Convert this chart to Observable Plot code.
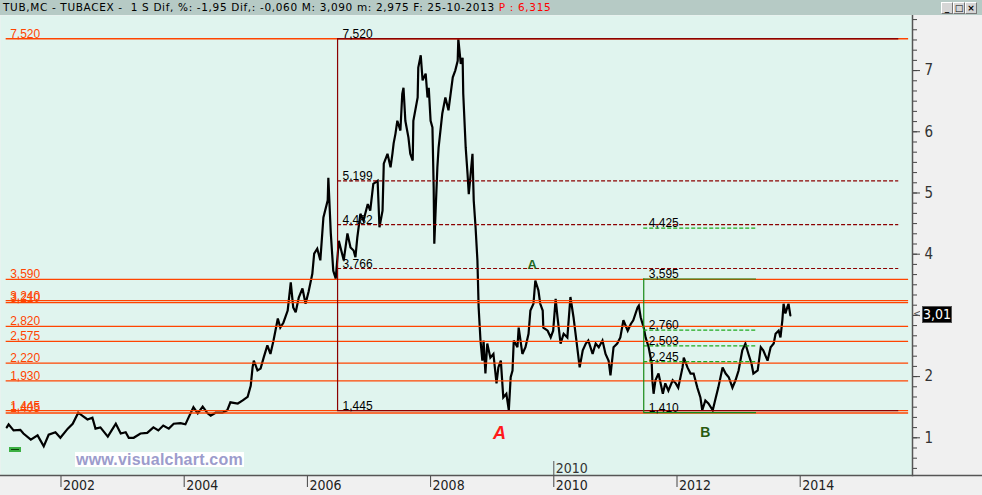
<!DOCTYPE html>
<html><head><meta charset="utf-8">
<script src="https://cdn.jsdelivr.net/npm/d3@7"></script>
<script src="https://cdn.jsdelivr.net/npm/@observablehq/plot@0.6"></script>
<style>
html,body{margin:0;padding:0;background:#f0f0f0;}
#wrap{position:relative;width:982px;height:495px;overflow:hidden;background:#f0f0f0;}
#hdr{position:absolute;left:0;top:0;width:982px;height:15px;background:#b6cac5;font:10.5px "DejaVu Sans",sans-serif;line-height:15px;white-space:pre;color:#000;}
#hdr .t{position:absolute;left:3px;top:0;letter-spacing:0.65px;}
#hdr .btn{position:absolute;top:2px;width:10px;height:10px;background:#d6d6d6;border:1px solid #fff;border-right-color:#777;border-bottom-color:#777;font:bold 9px "DejaVu Sans",sans-serif;line-height:10px;text-align:center;color:#000;}
#chart{position:absolute;left:0;top:15px;}
#wm{position:absolute;left:75px;top:452px;height:15px;background:#fff;padding:0 1px;font:bold 16px "Liberation Sans",Arial,sans-serif;line-height:15px;color:#9c9ccc;letter-spacing:0.2px;}
#gr{position:absolute;left:9px;top:447px;width:12px;height:5px;background:#3cb043;}
#gr div{position:absolute;left:2px;top:2px;width:8px;height:1px;background:#0a400a;}
#last{position:absolute;left:922px;width:28px;height:15px;background:#000;border:1px solid #555;color:#fff;font:14px "Liberation Sans Narrow","DejaVu Sans Condensed",sans-serif;line-height:15px;text-align:center;}
#arr{position:absolute;left:913px;width:7px;height:11px;overflow:hidden;font:10px "DejaVu Sans",sans-serif;color:#555;line-height:11px;}
</style></head>
<body><div id="wrap">
<div id="chart"></div>
<div id="hdr"><span class="t">TUB,MC - TUBACEX -  1 S Dif, %: -1,95 Dif,: -0,060 M: 3,090 m: 2,975 F: 25-10-2013 <span style="color:#f00">P : 6,315</span></span>
<div class="btn" style="left:941px">_</div><div class="btn" style="left:953px">□</div><div class="btn" style="left:965px">×</div></div>
<div id="gr"><div></div></div>
<div id="wm">www.visualchart.com</div>
</div>
<script>
// ---- data ----
const priceYears = [
2001.12,2001.15,2001.23,2001.34,2001.39,2001.51,2001.62,2001.72,2001.80,2001.91,2001.99,
2002.11,2002.19,2002.28,2002.35,2002.43,2002.51,2002.56,2002.64,2002.76,2002.84,2002.89,2002.97,
2003.05,2003.10,2003.18,2003.29,2003.40,2003.50,2003.58,2003.66,2003.75,2003.83,2003.94,
2004.02,2004.07,2004.15,2004.22,2004.30,2004.38,2004.43,2004.51,2004.62,2004.70,2004.75,2004.87,2004.95,
2005.03,2005.08,2005.11,2005.13,2005.19,2005.24,2005.29,2005.35,2005.40,2005.45,2005.52,2005.56,2005.61,2005.68,2005.73,2005.77,2005.81,2005.86,2005.92,2005.97,
2006.02,2006.08,2006.11,2006.16,2006.21,2006.26,2006.33,2006.34,2006.38,2006.42,2006.46,2006.51,2006.59,2006.65,2006.70,2006.75,2006.78,2006.81,2006.86,2006.91,2006.98,
2007.02,2007.07,2007.14,2007.17,2007.22,2007.24,2007.30,2007.35,2007.38,2007.40,2007.43,2007.46,2007.51,2007.54,2007.56,2007.59,2007.64,2007.67,2007.71,2007.72,2007.79,2007.80,2007.84,2007.87,2007.92,2007.95,2007.97,
2008.00,2008.03,2008.05,2008.06,2008.11,2008.13,2008.19,2008.24,2008.29,2008.36,2008.40,2008.44,2008.45,2008.49,2008.52,2008.53,2008.57,2008.60,2008.62,2008.68,2008.70,2008.73,2008.76,2008.78,2008.81,2008.84,2008.86,2008.89,2008.92,2008.97,
2009.02,2009.07,2009.10,2009.14,2009.18,2009.23,2009.27,2009.30,2009.33,2009.35,2009.41,2009.43,2009.49,2009.54,2009.59,2009.62,2009.67,2009.70,2009.75,2009.78,2009.82,2009.83,2009.90,2009.95,2009.99,
2010.03,2010.06,2010.11,2010.16,2010.22,2010.27,2010.32,2010.38,2010.42,2010.47,2010.52,2010.56,2010.63,2010.68,2010.73,2010.79,2010.84,2010.89,2010.92,2010.97,
2011.03,2011.08,2011.13,2011.20,2011.25,2011.29,2011.36,2011.38,2011.41,2011.46,2011.49,2011.54,2011.59,2011.60,2011.62,2011.65,2011.70,2011.77,2011.81,2011.86,2011.93,2011.98,
2012.02,2012.09,2012.11,2012.17,2012.22,2012.27,2012.33,2012.38,2012.41,2012.46,2012.51,2012.58,2012.63,2012.67,2012.74,2012.79,2012.84,2012.90,2012.95,
2013.00,2013.06,2013.11,2013.16,2013.21,2013.24,2013.31,2013.36,2013.40,2013.47,2013.52,2013.57,2013.60,2013.65,2013.68,2013.71,2013.73,2013.76,2013.79,2013.81,2013.84
];
const priceValues = [
1.17,1.22,1.12,1.13,1.07,0.97,1.04,0.86,1.05,1.09,1.00,
1.15,1.23,1.41,1.36,1.30,1.33,1.15,1.17,1.02,1.15,1.23,1.07,
1.09,1.00,1.00,1.07,1.08,1.17,1.12,1.20,1.15,1.23,1.24,
1.22,1.33,1.50,1.40,1.51,1.40,1.36,1.41,1.41,1.45,1.58,1.56,1.61,
1.67,1.85,2.15,2.26,2.10,2.13,2.31,2.51,2.37,2.59,2.95,2.80,2.88,3.08,3.54,3.13,3.05,3.29,3.44,3.19,
3.39,3.68,4.01,4.09,3.90,4.60,4.88,5.25,4.34,3.73,3.60,4.22,3.90,4.34,4.11,4.06,3.95,4.27,4.66,4.55,4.82,
4.71,5.15,5.20,4.44,4.71,5.48,5.64,5.42,5.64,5.81,5.97,6.18,6.02,6.62,6.72,6.18,5.91,5.64,5.53,6.18,6.56,7.05,7.25,6.84,6.95,6.56,6.72,
6.18,6.07,5.09,4.17,5.42,5.74,6.30,6.56,6.35,6.89,7.00,7.16,7.52,7.11,7.21,6.62,5.74,5.31,4.98,5.64,4.88,4.44,3.90,3.13,2.59,2.26,2.59,2.05,2.54,2.31,
2.37,1.89,2.15,2.26,1.66,1.72,1.45,1.99,2.10,2.59,2.48,2.80,2.37,2.48,2.70,3.08,3.19,3.57,3.41,3.19,3.08,2.80,2.75,2.64,2.75,
3.27,2.97,2.54,2.70,2.64,3.30,2.97,2.48,2.15,2.43,2.54,2.59,2.37,2.54,2.48,2.59,2.37,2.26,2.02,2.48,
2.54,2.64,2.92,2.75,2.86,2.92,3.13,3.16,2.97,2.80,2.64,2.48,2.21,1.94,1.72,1.94,2.05,1.72,1.89,1.77,1.94,1.89,
1.82,2.15,2.31,2.15,2.05,2.05,1.82,1.66,1.45,1.61,1.56,1.45,1.66,1.82,2.15,2.05,1.99,1.82,1.94,
2.10,2.43,2.54,2.37,2.21,2.05,2.10,2.48,2.43,2.26,2.48,2.54,2.70,2.75,2.64,2.92,3.19,3.03,3.13,3.19,3.00
];
const levelValues = [7.52, 3.59, 3.24, 3.21, 2.82, 2.575, 2.22, 1.93, 1.445, 1.405];
const levelSpan = [2001.11, 2015.76];
const fib1Span = [2006.49, 2015.60];
const fib1Range = [1.445, 7.52];
const fib1Levels = [5.199, 4.482, 3.766];
const fib2Span = [2011.46, 2013.29];
const fib2Range = [1.410, 3.595];
const fib2Levels = [4.425, 2.760, 2.503, 2.245];
const waveText = ["A", "A", "B"];
const waveYears = [2009.65, 2009.12, 2012.46];
const waveValues = [3.83, 1.07, 1.09];
const yearTicks = [2002, 2004, 2006, 2008, 2010, 2012, 2014];
const innerYear = [2010];
const majorYTicks = [1, 2, 3, 4, 5, 6, 7];
const minorYTicks = d3.range(3, 48).map(i => i / 6);
const lastPrice = 3.01;
const xDomain = [2001.018, 2015.823];
const yDomain = [0.384, 7.900];

// ---- drawing ----
const fmt = v => v.toFixed(3).replace(".", ",");
const FONT = "'Liberation Sans', Arial, sans-serif";
const NARROW = "'Liberation Sans Narrow','DejaVu Sans Condensed',sans-serif";
const ORANGE = "#ff4400", DRED = "#8b0000", GREEN = "#168a16", GREEN2 = "#1faa1f";
const price = priceYears.map((y, i) => ({year: y, value: priceValues[i]}));
const waves = waveText.map((t, i) => ({t, year: waveYears[i], value: waveValues[i]}));

const chart = Plot.plot({
  width: 982, height: 480,
  marginLeft: 0, marginRight: 70, marginTop: 0, marginBottom: 20,
  style: {background: "transparent", fontFamily: FONT, overflow: "visible"},
  x: {domain: xDomain},
  y: {domain: yDomain},
  marks: [
    Plot.frame({fill: "#e0f4ee", stroke: "none"}),
    Plot.line(price, {x: "year", y: "value", stroke: "#000", strokeWidth: 2.2, strokeLinejoin: "miter", strokeMiterlimit: 3}),
    // horizontal support / resistance levels
    Plot.ruleY(levelValues, {y: d => d, x1: levelSpan[0], x2: levelSpan[1], stroke: ORANGE, strokeWidth: 1.3}),
    Plot.text(levelValues, {x: levelSpan[0], y: d => d, text: fmt, dx: 4, dy: -1, textAnchor: "start", lineAnchor: "bottom", fill: ORANGE, fontSize: 12}),
    // fibonacci box 1
    Plot.ruleX([fib1Span[0]], {x: d => d, y1: fib1Range[0], y2: fib1Range[1], stroke: DRED, strokeWidth: 1.2}),
    Plot.ruleY(fib1Range, {y: d => d, x1: fib1Span[0], x2: fib1Span[1], stroke: DRED, strokeWidth: 1.3}),
    Plot.ruleY(fib1Levels, {y: d => d, x1: fib1Span[0], x2: fib1Span[1], stroke: DRED, strokeWidth: 1.2, strokeDasharray: "4,2"}),
    Plot.text([fib1Range[1], ...fib1Levels, fib1Range[0]], {x: fib1Span[0], y: d => d, text: fmt, dx: 5, dy: -1, textAnchor: "start", lineAnchor: "bottom", fill: "#000", fontSize: 12}),
    // fibonacci box 2
    Plot.ruleX([fib2Span[0]], {x: d => d, y1: fib2Range[0], y2: fib2Range[1], stroke: GREEN, strokeWidth: 1.2}),
    Plot.ruleY(fib2Range, {y: d => d, x1: fib2Span[0], x2: fib2Span[1], stroke: GREEN, strokeWidth: 1.2}),
    Plot.ruleY(fib2Levels, {y: d => d, x1: fib2Span[0], x2: fib2Span[1], stroke: GREEN2, strokeWidth: 1.2, strokeDasharray: "4,2"}),
    Plot.text([fib2Levels[0], fib2Range[1], ...fib2Levels.slice(1), fib2Range[0]], {x: fib2Span[0], y: d => d, text: fmt, dx: 5, dy: -1, textAnchor: "start", lineAnchor: "bottom", fill: "#000", fontSize: 12}),
    // wave labels
    Plot.text(waves.filter((d, i) => i === 0), {x: "year", y: "value", text: "t", fill: "#226622", fontWeight: "bold", fontSize: 13}),
    Plot.text(waves.filter((d, i) => i === 1), {x: "year", y: "value", text: "t", fill: "#ff1a1a", fontWeight: "bold", fontStyle: "italic", fontSize: 18}),
    Plot.text(waves.filter((d, i) => i === 2), {x: "year", y: "value", text: "t", fill: "#2a5a10", fontWeight: "bold", fontSize: 14}),
    // inner 2010 marker
    Plot.ruleX(innerYear, {x: d => d, insetTop: 446, stroke: "#555", strokeWidth: 1}),
    Plot.text(innerYear, {x: d => d, frameAnchor: "bottom", text: d => String(d), dx: 2, dy: -3, textAnchor: "start", lineAnchor: "bottom", fontFamily: NARROW, fontSize: 14, fill: "#333"}),
    // right axis (the "3" label sits under the last-price box, as in the source)
    Plot.axisY(minorYTicks, {anchor: "right", tickSize: 4, tickFormat: () => "", label: null, stroke: "#444"}),
    Plot.axisY(majorYTicks, {anchor: "right", tickSize: 7, tickPadding: 5, tickFormat: d => (d === 3 ? "" : String(d)), label: null, stroke: "#444", fill: "#333", fontSize: 15, fontFamily: NARROW}),
    Plot.frame({anchor: "right", stroke: "#555", strokeWidth: 1.5}),
    // bottom axis
    Plot.axisX(yearTicks, {anchor: "bottom", tickSize: 12, tickFormat: () => "", label: null, stroke: "#444"}),
    Plot.axisX(yearTicks, {anchor: "bottom", tickSize: 0, tickPadding: 5, textAnchor: "start", dx: 2, tickFormat: d => String(d), label: null, fill: "#222", fontSize: 14, fontFamily: NARROW})
  ]
});
document.getElementById("chart").appendChild(chart);

// full-width baseline of the plot area
d3.select(chart).append("line")
  .attr("x1", 0).attr("x2", 982).attr("y1", 460.5).attr("y2", 460.5)
  .attr("stroke", "#555").attr("stroke-width", 1.5);

// last-price marker on the right axis
const yPix = chart.scale("y").apply(lastPrice) + 15;
const wrap = document.getElementById("wrap");
const box = document.createElement("div");
box.id = "last"; box.textContent = fmt(lastPrice).slice(0, 4);
box.style.top = (yPix - 8) + "px";
wrap.appendChild(box);
const arr = document.createElement("div");
arr.id = "arr"; arr.textContent = "<";
arr.style.top = (yPix - 6) + "px";
wrap.appendChild(arr);
</script>
</body></html>
